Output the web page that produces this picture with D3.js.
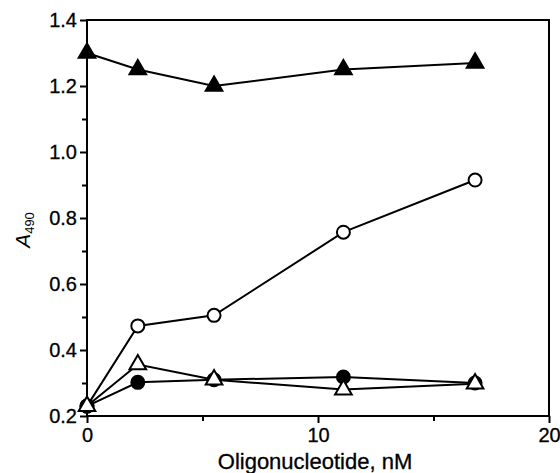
<!DOCTYPE html>
<html>
<head>
<meta charset="utf-8">
<script src="https://cdn.jsdelivr.net/npm/d3@7"></script>
<style>
  body { margin: 0; background: #fff; }
  text { font-family: "Liberation Sans", Arial, sans-serif; fill: #000; }
</style>
</head>
<body>
<div class="chart"></div>
<script>
// oligonucleotide concentrations, nM
var conc = [0, 2.2, 5.5, 11.1, 16.8]

// A490 readings for each series
var filledTriangle = [1.30, 1.25, 1.20, 1.25, 1.27]
var openCircle = [0.23, 0.473, 0.505, 0.757, 0.915]
var filledCircle = [0.23, 0.302, 0.31, 0.318, 0.30]
var openTriangle = [0.23, 0.356, 0.31, 0.28, 0.298]

var xTicks = [0, 10, 20]
var xMinor = [5, 15]
var yTicks = [0.2, 0.4, 0.6, 0.8, 1.0, 1.2, 1.4]
var yMinor = [0.3, 0.5, 0.7, 0.9, 1.1, 1.3]

var series = [
  { values: openCircle, shape: 'circle', fill: '#fff' },
  { values: filledCircle, shape: 'circle', fill: '#000' },
  { values: openTriangle, shape: 'triangle', fill: '#fff' },
  { values: filledTriangle, shape: 'triangle', fill: '#000' }
]

var margin = { top: 20, right: 11, bottom: 57, left: 87 }
var width = 560 - margin.left - margin.right
var height = 473 - margin.top - margin.bottom

var svg = d3.select('.chart').append('svg')
  .attr('width', 560)
  .attr('height', 473)
  .append('g')
  .attr('transform', 'translate(' + margin.left + ',' + margin.top + ')')

var x = d3.scaleLinear().domain([0, 20]).range([0, width])
var y = d3.scaleLinear().domain([0.2, 1.4]).range([height, 0])

// frame
svg.append('rect')
  .attr('width', width).attr('height', height)
  .attr('fill', 'none').attr('stroke', '#000').attr('stroke-width', 2)

// axes
svg.append('g')
  .attr('transform', 'translate(0,' + height + ')')
  .call(d3.axisBottom(x).tickValues(xTicks).tickFormat(d3.format('d')).tickSize(7).tickPadding(5))
svg.append('g')
  .attr('transform', 'translate(0,' + height + ')')
  .call(d3.axisBottom(x).tickValues(xMinor).tickFormat('').tickSize(5))

svg.append('g')
  .call(d3.axisLeft(y).tickValues(yTicks).tickFormat(d3.format('.1f')).tickSize(7).tickPadding(3))
svg.append('g')
  .call(d3.axisLeft(y).tickValues(yMinor).tickFormat('').tickSize(5))

svg.selectAll('.domain').remove()
svg.selectAll('.tick line').attr('stroke', '#000').attr('stroke-width', 2)
svg.selectAll('.tick text')
  .style('font-size', '20px')
  .attr('stroke', '#000')
  .attr('stroke-width', 0.3)

// lines
var line = d3.line()
  .x((d, i) => x(conc[i]))
  .y(d => y(d))

svg.selectAll('path.series')
  .data(series)
  .enter().append('path')
  .attr('class', 'series')
  .attr('d', d => line(d.values))
  .attr('fill', 'none')
  .attr('stroke', '#000')
  .attr('stroke-width', 2)

// markers
var triangle = d3.symbol().type(d3.symbolTriangle).size(120)
series.forEach(s => {
  var g = svg.append('g')
  var pts = g.selectAll('.pt')
    .data(s.values)
    .enter()
  if (s.shape === 'circle') {
    pts.append('circle')
      .attr('cx', (d, i) => x(conc[i]))
      .attr('cy', d => y(d))
      .attr('r', 6.5)
      .attr('fill', s.fill)
      .attr('stroke', '#000')
      .attr('stroke-width', 2)
  } else {
    pts.append('path')
      .attr('d', triangle)
      .attr('transform', (d, i) => 'translate(' + x(conc[i]) + ',' + y(d) + ')')
      .attr('fill', s.fill)
      .attr('stroke', '#000')
      .attr('stroke-width', 2)
  }
})

// axis titles
svg.append('text')
  .attr('x', width / 2 - 3)
  .attr('y', height + 53)
  .attr('text-anchor', 'middle')
  .style('font-size', '22px')
  .attr('stroke', '#000')
  .attr('stroke-width', 0.3)
  .text('Oligonucleotide, nM')

var yLab = svg.append('text')
  .attr('transform', 'translate(-57,' + (height / 2 + 12) + ') rotate(-90)')
  .attr('text-anchor', 'middle')
  .style('font-size', '21px')
yLab.append('tspan').style('font-style', 'italic').text('A')
yLab.append('tspan').attr('dy', 4).style('font-size', '13px').text('490')
</script>
</body>
</html>
